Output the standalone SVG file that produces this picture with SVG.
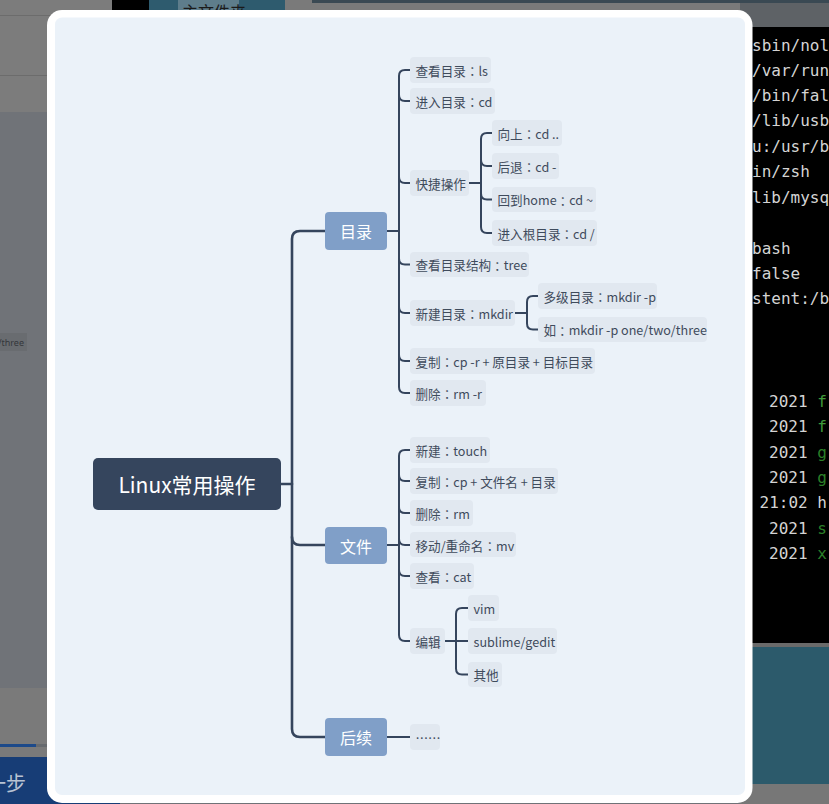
<svg xmlns="http://www.w3.org/2000/svg" width="829" height="804" viewBox="0 0 829 804">
  <defs>
    <style>
      .leaf rect { fill: #e1e8f0; }
      .leaf text { font-family: "Noto Sans CJK SC", "Noto Sans", sans-serif; font-size: 12.6px; fill: #3f4b5c; dominant-baseline: central; }
      .leaf .c { font-family: "Noto Sans CJK JP", "Noto Sans CJK SC", sans-serif; }
      .branch rect { fill: #809fc8; }
      .branch text { font-family: "Noto Sans CJK SC", "Noto Sans", sans-serif; font-size: 16px; fill: #ffffff; text-anchor: middle; dominant-baseline: central; }
      .main { fill: none; stroke: #35455d; stroke-width: 2.6; stroke-linecap: round; }
      .sub { fill: none; stroke: #35455d; stroke-width: 2; stroke-linecap: round; }
      .term { font-family: "DejaVu Sans Mono", "Liberation Mono", monospace; font-size: 16px; fill: #d4d4d4; }
      .green { fill: #3f9a3a; }
      .dgreen { fill: #2b7f28; }
    </style>
  </defs>

  <!-- desktop behind the dialog -->
  <g id="backdrop">
    <rect x="0" y="0" width="829" height="804" fill="#6f7277"/>
    <!-- left window -->
    <rect x="0" y="0" width="60" height="112" fill="#7c7c7c"/>
    <rect x="0" y="15" width="60" height="1" fill="#6c6c6c"/>
    <rect x="0" y="75" width="60" height="1" fill="#6c6c6c"/>
    <rect x="0" y="112" width="60" height="576" fill="#707378"/>
    <rect x="0" y="333" width="27" height="18" fill="#696c70"/>
    <text x="24" y="346" font-family="Noto Sans, sans-serif" font-size="9" fill="#34373b" text-anchor="end">/three</text>
    <rect x="0" y="688" width="60" height="69" fill="#7a7a7a"/>
    <rect x="0" y="744" width="60" height="3" fill="#676a6e"/>
    <rect x="0" y="744" width="36" height="3" fill="#1d4a8a"/>
    <rect x="0" y="757" width="120" height="47" fill="#173d76"/>
    <text x="26" y="791" font-family="Noto Sans CJK SC, sans-serif" font-size="20" fill="#b9c3d3" text-anchor="end">一步</text>
    <!-- top bar -->
    <rect x="60" y="0" width="52" height="12" fill="#7c7c7c"/>
    <rect x="112" y="0" width="37" height="12" fill="#000000"/>
    <rect x="149" y="0" width="136" height="12" fill="#2e5b6e"/>
    <rect x="178" y="0" width="61" height="12" fill="#5e7d8b"/>
    <text x="182" y="18" font-family="Noto Sans CJK SC, sans-serif" font-size="16" fill="#1a1a1a">主文件夹</text>
    <rect x="285" y="0" width="470" height="12" fill="#7a7a7a"/>
    <rect x="312" y="0" width="517" height="3" fill="#3a4953"/>
    <!-- terminal -->
    <rect x="740" y="3" width="89" height="24" fill="#5e6266"/>
    <rect x="740" y="27" width="89" height="616" fill="#000000"/>
    <g class="term">
      <text x="752" y="51">sbin/nol</text>
      <text x="752" y="76">/var/run</text>
      <text x="752" y="101">/bin/fal</text>
      <text x="752" y="126">/lib/usb</text>
      <text x="752" y="152">u:/usr/b</text>
      <text x="752" y="177">in/zsh</text>
      <text x="752" y="203">lib/mysq</text>
      <text x="752" y="254">bash</text>
      <text x="752" y="279">false</text>
      <text x="752" y="304">stent:/b</text>
      <text x="769" y="407">2021 <tspan class="green">f</tspan></text>
      <text x="769" y="432">2021 <tspan class="green">f</tspan></text>
      <text x="769" y="458">2021 <tspan class="dgreen">g</tspan></text>
      <text x="769" y="483">2021 <tspan class="dgreen">g</tspan></text>
      <text x="759.5" y="508">21:02 h</text>
      <text x="769" y="534">2021 <tspan class="dgreen">s</tspan></text>
      <text x="769" y="559">2021 <tspan class="dgreen">x</tspan></text>
    </g>
    <rect x="740" y="643" width="89" height="4" fill="#6a6a6a"/>
    <rect x="740" y="647" width="89" height="137" fill="#2c5a6b"/>
    <rect x="740" y="784" width="89" height="20" fill="#777777"/>
  </g>

  <!-- dialog card -->
  <rect x="47" y="10" width="705.5" height="793" rx="15" fill="#ffffff"/>
  <rect x="55" y="17.5" width="690" height="777.5" rx="7" fill="#ebf2f9"/>

  <!-- connectors -->
  <g id="connectors">
    <path class="main" d="M281,484 H292"/>
    <path class="main" d="M325,231 H300 Q292,231 292,239 V729 Q292,737 300,737 H325"/>
    <path class="main" d="M292,537 Q292,545 300,545 H325"/>

    <path class="sub" d="M387,231 H399"/>
    <path class="sub" d="M410,70 H405 Q399,70 399,76 V387 Q399,393 405,393 H410"/>
    <path class="sub" d="M399,95 Q399,101 405,101 H410"/>
    <path class="sub" d="M399,177 Q399,183 405,183 H410"/>
    <path class="sub" d="M399,258.5 Q399,264.5 405,264.5 H410"/>
    <path class="sub" d="M399,307 Q399,313 405,313 H410"/>
    <path class="sub" d="M399,355 Q399,361 405,361 H410"/>

    <path class="sub" d="M469,183 H481"/>
    <path class="sub" d="M492,133 H487 Q481,133 481,139 V227 Q481,233 487,233 H492"/>
    <path class="sub" d="M481,160 Q481,166 487,166 H492"/>
    <path class="sub" d="M481,193.5 Q481,199.5 487,199.5 H492"/>

    <path class="sub" d="M515,313 H527"/>
    <path class="sub" d="M538,296 H533 Q527,296 527,302 V323.5 Q527,329.5 533,329.5 H538"/>

    <path class="sub" d="M387,545 H399"/>
    <path class="sub" d="M410,450 H405 Q399,450 399,456 V635 Q399,641 405,641 H410"/>
    <path class="sub" d="M399,475 Q399,481 405,481 H410"/>
    <path class="sub" d="M399,507 Q399,513 405,513 H410"/>
    <path class="sub" d="M399,539 Q399,545 405,545 H410"/>
    <path class="sub" d="M399,570 Q399,576 405,576 H410"/>

    <path class="sub" d="M445,641 H468"/>
    <path class="sub" d="M468,608 H462 Q456,608 456,614 V668.5 Q456,674.5 462,674.5 H468"/>

    <path class="sub" d="M387,737 H410"/>
  </g>

  <!-- root -->
  <g id="root">
    <rect x="93" y="458" width="188" height="52" rx="5" fill="#35455d"/>
    <text x="187" y="484" font-family="Noto Sans CJK SC, Noto Sans, sans-serif" font-size="21" fill="#ffffff" text-anchor="middle" dominant-baseline="central">Linux常用操作</text>
  </g>

  <!-- main branches -->
  <g id="branch-dir" class="branch"><rect x="325" y="212" width="62" height="38" rx="4"/><text x="356" y="231">目录</text></g>
  <g id="branch-file" class="branch"><rect x="325" y="527" width="62" height="37" rx="4"/><text x="356" y="545.5">文件</text></g>
  <g id="branch-more" class="branch"><rect x="325" y="718" width="62" height="38" rx="4"/><text x="356" y="737">后续</text></g>

  <!-- directory topics -->
  <g id="dir-ls" class="leaf"><rect x="410" y="57" width="81" height="26" rx="4"/><text x="415.5" y="70">查看目录<tspan class="c">：</tspan>ls</text></g>
  <g id="dir-cd" class="leaf"><rect x="410" y="88" width="85" height="26" rx="4"/><text x="415.5" y="101">进入目录<tspan class="c">：</tspan>cd</text></g>
  <g id="dir-shortcut" class="leaf"><rect x="410" y="170" width="59" height="26" rx="4"/><text x="415.5" y="183">快捷操作</text></g>
  <g id="cd-up" class="leaf"><rect x="492" y="120" width="70" height="26" rx="4"/><text x="497.5" y="133">向上<tspan class="c">：</tspan>cd ..</text></g>
  <g id="cd-back" class="leaf"><rect x="492" y="153" width="67" height="26" rx="4"/><text x="497.5" y="166">后退<tspan class="c">：</tspan>cd -</text></g>
  <g id="cd-home" class="leaf"><rect x="492" y="187" width="104" height="25" rx="4"/><text x="497.5" y="199.5">回到home<tspan class="c">：</tspan>cd ~</text></g>
  <g id="cd-root" class="leaf"><rect x="492" y="220" width="105" height="26" rx="4"/><text x="497.5" y="233">进入根目录<tspan class="c">：</tspan>cd /</text></g>
  <g id="dir-tree" class="leaf"><rect x="410" y="252" width="119" height="25" rx="4"/><text x="415.5" y="264.5">查看目录结构<tspan class="c">：</tspan>tree</text></g>
  <g id="dir-mkdir" class="leaf"><rect x="410" y="300" width="105" height="26" rx="4"/><text x="415.5" y="313">新建目录<tspan class="c">：</tspan>mkdir</text></g>
  <g id="mkdir-p" class="leaf"><rect x="538" y="283" width="119" height="26" rx="4"/><text x="543.5" y="296">多级目录<tspan class="c">：</tspan>mkdir -p</text></g>
  <g id="mkdir-example" class="leaf"><rect x="538" y="317" width="169" height="25" rx="4"/><text x="543.5" y="329.5">如<tspan class="c">：</tspan>mkdir -p one/two/three</text></g>
  <g id="dir-copy" class="leaf"><rect x="410" y="348" width="185" height="26" rx="4"/><text x="415.5" y="361">复制<tspan class="c">：</tspan>cp -r + 原目录 + 目标目录</text></g>
  <g id="dir-remove" class="leaf"><rect x="410" y="380" width="76" height="26" rx="4"/><text x="415.5" y="393">删除<tspan class="c">：</tspan>rm -r</text></g>

  <!-- file topics -->
  <g id="file-touch" class="leaf"><rect x="410" y="437" width="80" height="26" rx="4"/><text x="415.5" y="450">新建<tspan class="c">：</tspan>touch</text></g>
  <g id="file-copy" class="leaf"><rect x="410" y="468" width="148" height="26" rx="4"/><text x="415.5" y="481">复制<tspan class="c">：</tspan>cp + 文件名 + 目录</text></g>
  <g id="file-remove" class="leaf"><rect x="410" y="500" width="63" height="26" rx="4"/><text x="415.5" y="513">删除<tspan class="c">：</tspan>rm</text></g>
  <g id="file-move" class="leaf"><rect x="410" y="532" width="106" height="25" rx="4"/><text x="415.5" y="545">移动/重命名<tspan class="c">：</tspan>mv</text></g>
  <g id="file-cat" class="leaf"><rect x="410" y="563" width="64" height="26" rx="4"/><text x="415.5" y="576">查看<tspan class="c">：</tspan>cat</text></g>
  <g id="file-edit" class="leaf"><rect x="410" y="628" width="35" height="26" rx="4"/><text x="415.5" y="641">编辑</text></g>
  <g id="edit-vim" class="leaf"><rect x="468" y="595" width="31" height="26" rx="4"/><text x="473.5" y="608">vim</text></g>
  <g id="edit-sublime" class="leaf"><rect x="468" y="628" width="89" height="26" rx="4"/><text x="473.5" y="641">sublime/gedit</text></g>
  <g id="edit-other" class="leaf"><rect x="468" y="662" width="34" height="25" rx="4"/><text x="473.5" y="674.5">其他</text></g>

  <!-- follow-up -->
  <g id="more-ellipsis" class="leaf"><rect x="410" y="724" width="30" height="26" rx="4"/><text x="415.5" y="737">……</text></g>
</svg>
